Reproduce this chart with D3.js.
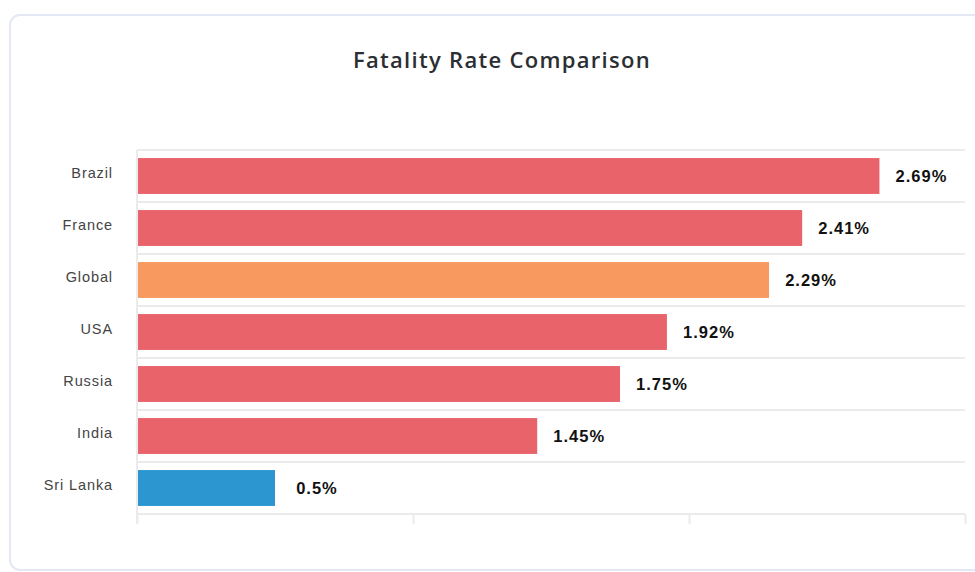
<!DOCTYPE html>
<html>
<head>
<meta charset="utf-8">
<script src="https://cdn.jsdelivr.net/npm/d3@7"></script>
<style>
  html, body { margin: 0; padding: 0; background: #fff; }
  svg { display: block; }
</style>
</head>
<body>
<svg id="chart" width="975" height="572"></svg>
<script>
// Fatality rate (%) by country
const countries = ["Brazil", "France", "Global", "USA", "Russia", "India", "Sri Lanka"];
const rates = [2.69, 2.41, 2.29, 1.92, 1.75, 1.45, 0.5];
const barColors = ["#e8646a", "#e8646a", "#f89a60", "#e8646a", "#e8646a", "#e8646a", "#2b96cf"];
const xTicks = [0, 1, 2, 3];
const title = "Fatality Rate Comparison";

const svg = d3.select("#chart");
const margin = { top: 150, left: 137 };
const plotW = 965 - margin.left;
const plotH = 514 - margin.top;

// card background
svg.append("rect")
  .attr("x", 10).attr("y", 15)
  .attr("width", 1000).attr("height", 555)
  .attr("rx", 10)
  .attr("fill", "#fff")
  .attr("stroke", "#e4e7f6")
  .attr("stroke-width", 2);

svg.append("text")
  .attr("x", 502).attr("y", 68)
  .attr("text-anchor", "middle")
  .attr("font-family", "'Open Sans', sans-serif")
  .attr("font-weight", 600)
  .attr("font-size", 22)
  .attr("letter-spacing", 1.3)
  .attr("fill", "#2b2e33")
  .text(title);

const g = svg.append("g").attr("transform", `translate(${margin.left},${margin.top})`);

const x = d3.scaleLinear().domain([0, 3]).range([0, plotW]);
const y = d3.scaleBand().domain(countries).range([0, plotH]).paddingInner(0.31).paddingOuter(0.155);

const gridColor = "#ebebeb";

// horizontal separators between category bands
const boundaries = d3.range(countries.length + 1).map(i => i * plotH / countries.length);
g.selectAll("line.hgrid").data(boundaries).join("line")
  .attr("class", "hgrid")
  .attr("x1", 0).attr("x2", plotW)
  .attr("y1", d => d).attr("y2", d => d)
  .attr("stroke", gridColor).attr("stroke-width", 2);

// x axis: tick marks only
const xAxis = g.append("g")
  .attr("transform", `translate(0,${plotH})`)
  .call(d3.axisBottom(x).tickValues(xTicks).tickSize(10).tickFormat(""));
xAxis.select(".domain").remove();
xAxis.selectAll(".tick line").attr("stroke", gridColor).attr("stroke-width", 2);

// left axis line
g.append("line")
  .attr("x1", 0).attr("x2", 0)
  .attr("y1", 0).attr("y2", plotH + 10)
  .attr("stroke", gridColor).attr("stroke-width", 2);

// bars
g.selectAll("rect.bar").data(countries).join("rect")
  .attr("class", "bar")
  .attr("x", 1)
  .attr("y", d => y(d))
  .attr("width", (d, i) => x(rates[i]) - 1)
  .attr("height", y.bandwidth())
  .attr("fill", (d, i) => barColors[i]);

// category labels
g.selectAll("text.cat").data(countries).join("text")
  .attr("class", "cat")
  .attr("x", -24)
  .attr("y", d => y(d) + y.bandwidth() / 2 - 2)
  .attr("text-anchor", "end")
  .attr("dominant-baseline", "middle")
  .attr("font-family", "'Liberation Sans', Arial, sans-serif")
  .attr("font-size", 14.5)
  .attr("letter-spacing", 0.9)
  .attr("fill", "#444")
  .text(d => d);

// value labels, centred a fixed distance past the bar end
g.selectAll("text.val").data(countries).join("text")
  .attr("class", "val")
  .attr("x", (d, i) => x(rates[i]) + 42)
  .attr("y", d => y(d) + y.bandwidth() / 2 + 2)
  .attr("text-anchor", "middle")
  .attr("dominant-baseline", "middle")
  .attr("font-family", "'Liberation Sans', Arial, sans-serif")
  .attr("font-weight", "bold")
  .attr("font-size", 16.5)
  .attr("letter-spacing", 1)
  .attr("fill", "#111")
  .text((d, i) => rates[i] + "%");
</script>
</body>
</html>
